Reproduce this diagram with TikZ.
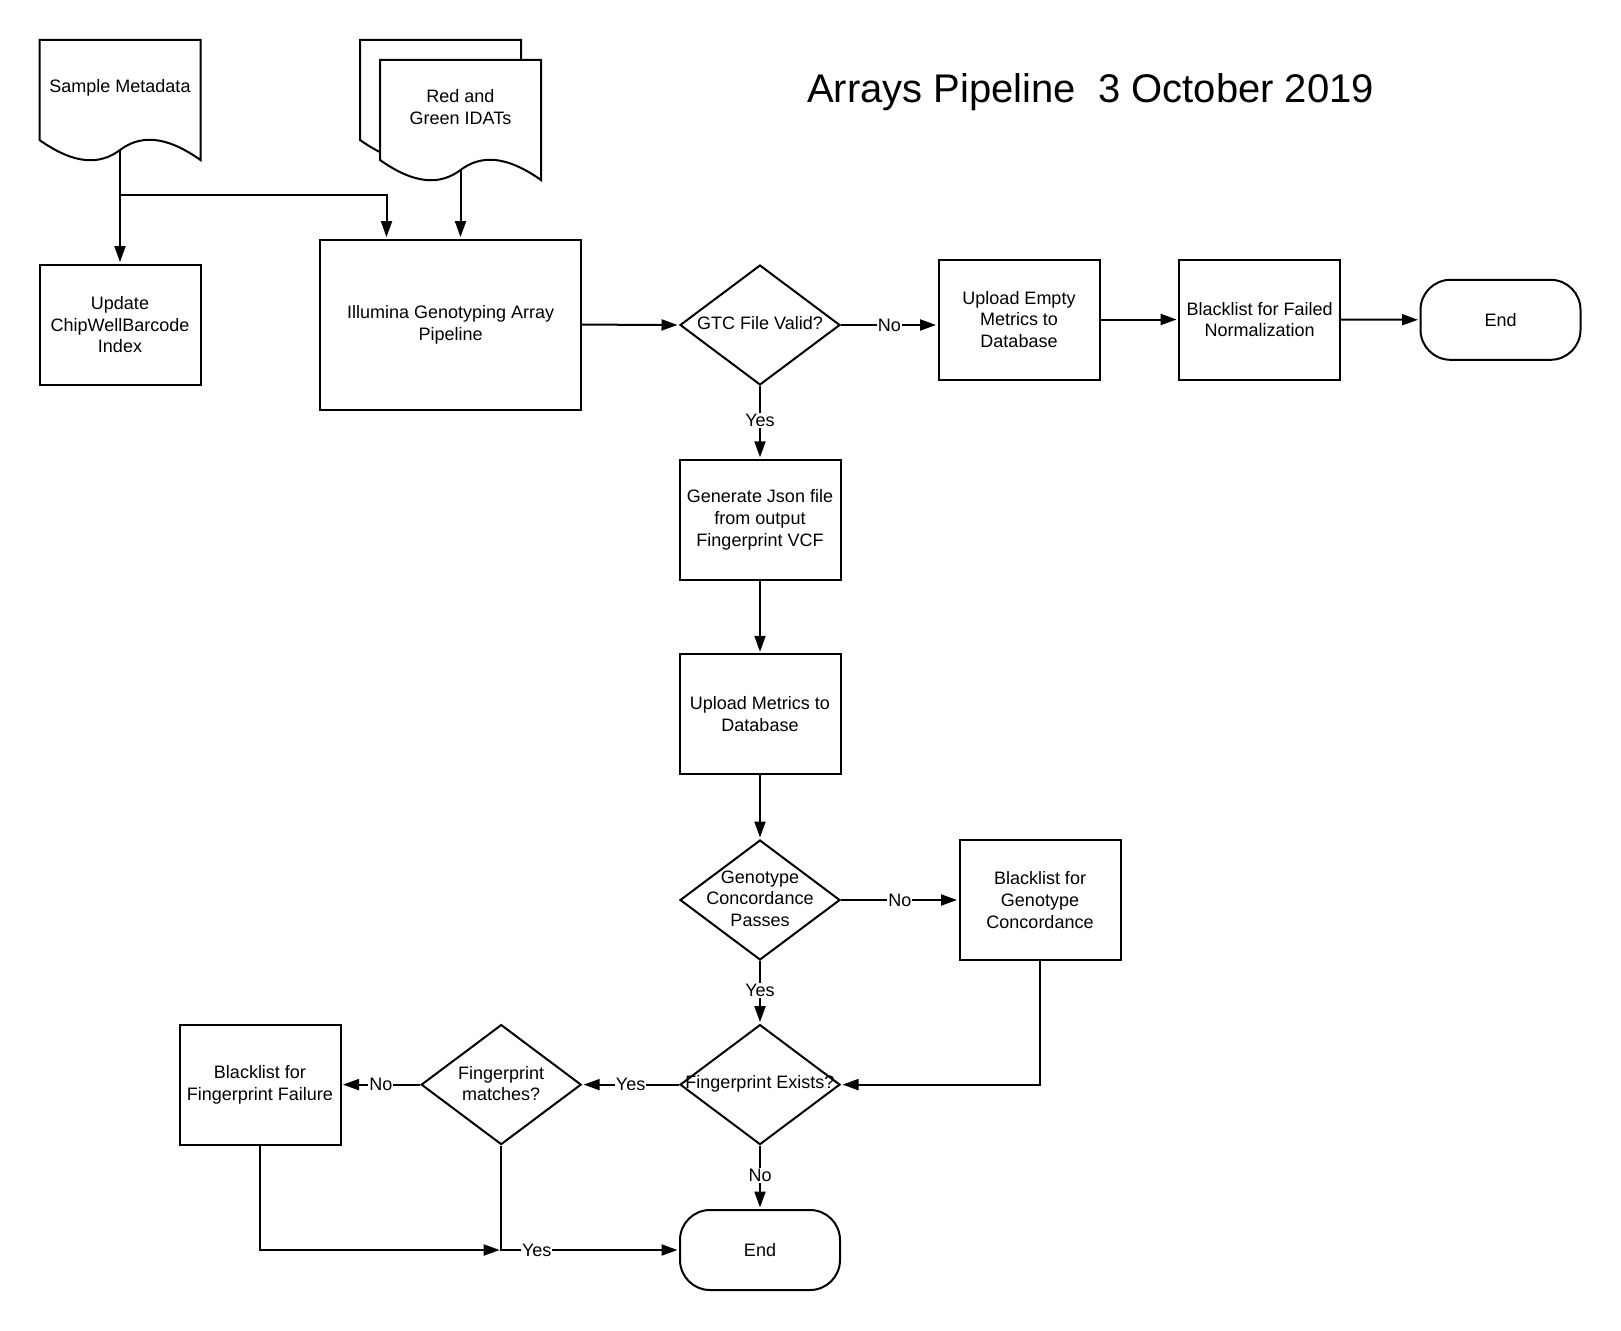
\documentclass[tikz,border=0pt]{standalone}
\usepackage{fontspec}
\setmainfont{Liberation Sans}
\usetikzlibrary{arrows.meta,shapes.geometric,calc}
\begin{document}
\begin{tikzpicture}[x=1pt,y=-1pt,
  base/.style={font=\fontsize{18}{21.7}\selectfont},
  box/.style={draw, line width=2pt, minimum width=161pt, minimum height=120pt, inner sep=2pt, align=center, base},
  dia/.style={draw, shape=diamond, line width=2pt, minimum width=160pt, minimum height=120pt, inner sep=0pt},
  term/.style={draw, rounded corners=30pt, line width=2pt, minimum width=160pt, minimum height=80pt, align=center, base},
  txt/.style={align=center, base, inner sep=0pt},
  docshape/.style={draw, fill=white, line width=2pt, line join=miter},
  con/.style={line width=2pt},
  arr/.style={con, -{Triangle[length=16pt,width=11pt]}, shorten >=1.5pt},
  lbl/.style={fill=white, inner sep=1pt, base}]
\fill[white] (0,0) rectangle (1621,1330);
\useasboundingbox (0,0) rectangle (1621,1330);

% title
\node[anchor=base, inner sep=0pt, font=\fontsize{40}{48}\selectfont] (title) at (1090.5,102) {Arrays Pipeline\ \ 3 October 2019};

% document shapes
\draw[docshape] (39.5,40) -- (200.5,40) -- (200.5,160) .. controls (165.1,135) and (140,135) .. (120,150) .. controls (100,165) and (74.9,165) .. (39.5,140) -- cycle;
\node[txt] (sm) at (120,87.5) {Sample Metadata};
\coordinate (smstem) at (120,150);
\coordinate (smbr) at (120,195);

\draw[docshape] (360,40) -- (521,40) -- (521,160) .. controls (485.6,135) and (460.5,135) .. (440.5,150) .. controls (420.5,165) and (395.4,165) .. (360,140) -- cycle;
\draw[docshape] (380,60) -- (541,60) -- (541,180) .. controls (505.6,155) and (480.5,155) .. (460.5,170) .. controls (440.5,185) and (415.4,185) .. (380,160) -- cycle;
\node[txt] (idat) at (460.5,107) {Red and\\Green IDATs};
\coordinate (idstem) at (460.5,170);

% boxes
\node[box] (upd) at (120,324.6) {Update\\ChipWellBarcode\\Index};
\node[box, minimum width=261pt, minimum height=170pt] (ill) at (450.7,324.6) {Illumina Genotyping Array\\Pipeline};
\node[dia] (gtc) at (760,325) {};
\node[txt] at ([yshift=1.5pt]gtc.center) {GTC File Valid?};
\node[box] (ue) at (1019,319.5) {Upload Empty\\Metrics to\\Database};
\node[box] (bfn) at (1259.6,319.5) {Blacklist for Failed\\Normalization};
\node[term] (end1) at (1500.5,319.8) {End};
\node[box] (gj) at (760,519.8) {Generate Json file\\from output\\Fingerprint VCF};
\node[box] (um) at (760,714.3) {Upload Metrics to\\Database};
\node[dia] (gc) at (760,900) {};
\node[txt] at ([yshift=1.5pt]gc.center) {Genotype\\Concordance\\Passes};
\node[box] (bgc) at (1040,900) {Blacklist for\\Genotype\\Concordance};
\node[dia] (fe) at (760,1084.6) {};
\node[txt] at ([yshift=1pt]fe.center) {Fingerprint Exists?};
\node[dia] (fm) at (501.2,1084.6) {};
\node[txt] at ([yshift=1pt]fm.center) {Fingerprint\\matches?};
\node[box] (bff) at (260,1084.6) {Blacklist for\\Fingerprint Failure};
\node[term] (end2) at (760,1250) {End};
\coordinate (jn) at (fm.south |- end2.west);

% connectors
\draw[arr] (smstem) -- (upd.north);
\draw[arr] (smbr) -| ([xshift=67.3pt]ill.north west);
\draw[arr] (idstem) -- (idstem |- ill.north);
\draw[arr] (ill.east) -- (gtc.west);
\draw[arr] (gtc.east) -- node[lbl]{No} (gtc.east -| ue.west);
\draw[arr] (ue.east) -- (bfn.west);
\draw[arr] (bfn.east) -- (end1.west);
\draw[arr] (gtc.south) -- node[lbl, pos=0.47]{Yes} (gj.north);
\draw[arr] (gj.south) -- (um.north);
\draw[arr] (um.south) -- (gc.north);
\draw[arr] (gc.east) -- node[lbl]{No} (bgc.west);
\draw[arr] (gc.south) -- node[lbl, pos=0.47]{Yes} (fe.north);
\draw[arr] (bgc.south) |- (fe.east);
\draw[arr] (fe.west) -- node[lbl]{Yes} (fm.east);
\draw[arr] (fm.west) -- node[lbl]{No} (bff.east);
\draw[arr] (fe.south) -- node[lbl, pos=0.47]{No} (end2.north);
\draw[arr] (bff.south) |- (jn);
\draw[arr] (fm.south) |- node[lbl, pos=0.6]{Yes} (end2.west);
\end{tikzpicture}
\end{document}
